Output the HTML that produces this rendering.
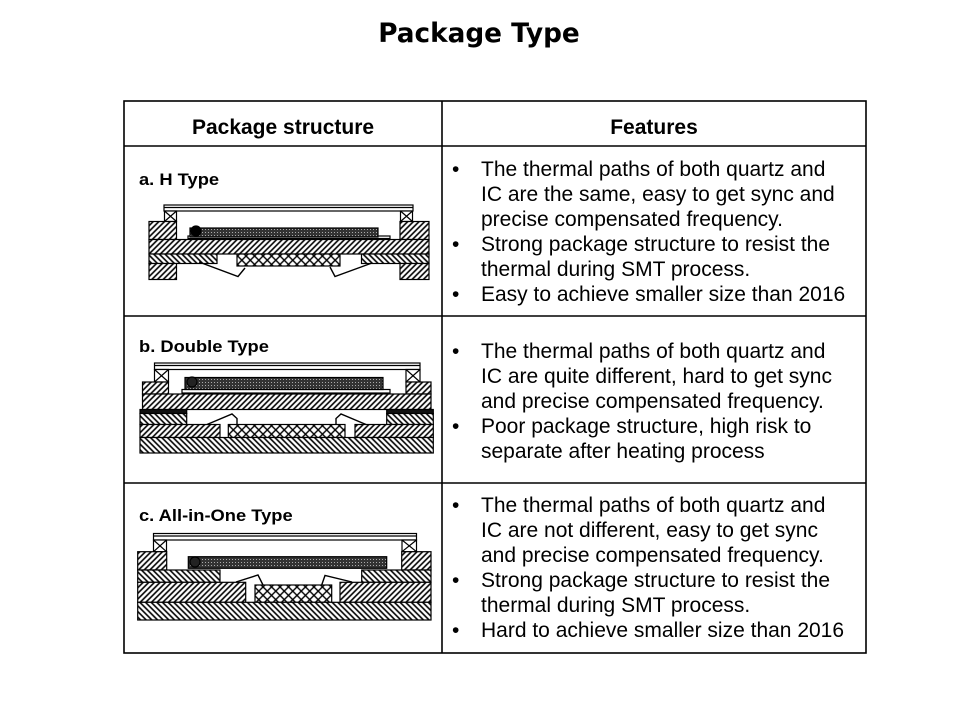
<!DOCTYPE html>
<html>
<head>
<meta charset="utf-8">
<style>
  html,body{margin:0;padding:0;background:#fff;}
  #root{position:relative;width:960px;height:720px;overflow:hidden;background:#fff;}
  svg{position:absolute;left:0;top:0;}
  .t{position:absolute;white-space:pre;line-height:1;color:#000;font-family:"Liberation Sans",Arial,sans-serif;}
  .title{font-family:"DejaVu Sans","Liberation Sans",sans-serif;font-weight:bold;font-size:26.3px;left:0;width:958px;text-align:center;top:21px;}
  .hd{font-weight:bold;font-size:21px;text-align:center;}
  .lab{font-weight:bold;font-size:16.5px;transform:scaleX(1.11);transform-origin:0 0;}
  .bl{font-size:21px;}
  .bu{font-size:21px;}
</style>
</head>
<body>
<div id="root">
<svg width="960" height="720" viewBox="0 0 960 720" xmlns="http://www.w3.org/2000/svg">
  <defs>
    <pattern id="h1" width="4" height="4" patternUnits="userSpaceOnUse" patternTransform="rotate(45)">
      <rect width="4" height="4" fill="#fff"/>
      <line x1="1" y1="0" x2="1" y2="4" stroke="#000" stroke-width="1.6"/>
    </pattern>
    <pattern id="h2" width="4" height="4" patternUnits="userSpaceOnUse" patternTransform="rotate(-45)">
      <rect width="4" height="4" fill="#fff"/>
      <line x1="1" y1="0" x2="1" y2="4" stroke="#000" stroke-width="1.6"/>
    </pattern>
    <pattern id="cx" width="6" height="6" patternUnits="userSpaceOnUse" patternTransform="rotate(45)">
      <rect width="6" height="6" fill="#fff"/>
      <line x1="1" y1="0" x2="1" y2="6" stroke="#000" stroke-width="1.4"/>
      <line x1="0" y1="1" x2="6" y2="1" stroke="#000" stroke-width="1.4"/>
    </pattern>
    <pattern id="qz" width="3" height="3" patternUnits="userSpaceOnUse">
      <rect width="3" height="3" fill="#333"/>
      <rect x="1" y="1" width="1" height="1" fill="#aaa"/>
    </pattern>
  </defs>

  <!-- table -->
  <g stroke="#000" stroke-width="1.6" fill="none">
    <rect x="124" y="101" width="742" height="552"/>
    <line x1="124" y1="146" x2="866" y2="146"/>
    <line x1="442" y1="101" x2="442" y2="653"/>
    <line x1="124" y1="316" x2="866" y2="316"/>
    <line x1="124" y1="483" x2="866" y2="483"/>
  </g>

  <!-- Diagram a: H Type -->
  <g stroke="#000" stroke-width="1.2">
    <rect x="164" y="205" width="249" height="6" fill="#fff"/>
    <line x1="164" y1="207.5" x2="413" y2="207.5"/>
    <rect x="164.5" y="211" width="12" height="10.5" fill="#fff"/>
    <path d="M164.5 211 L176.5 221.5 M176.5 211 L164.5 221.5"/>
    <rect x="400.5" y="211" width="12" height="10.5" fill="#fff"/>
    <path d="M400.5 211 L412.5 221.5 M412.5 211 L400.5 221.5"/>
    <rect x="149" y="221.5" width="27.5" height="18" fill="url(#h1)"/>
    <rect x="400" y="221.5" width="29" height="18" fill="url(#h1)"/>
    <rect x="149" y="239.5" width="280" height="14.5" fill="url(#h1)"/>
    <rect x="149" y="254" width="68" height="9.5" fill="url(#h2)"/>
    <rect x="361.5" y="254" width="67.5" height="9.5" fill="url(#h2)"/>
    <rect x="149" y="263.5" width="27.5" height="16" fill="url(#h1)"/>
    <rect x="400" y="263.5" width="29" height="16" fill="url(#h1)"/>
    <rect x="237" y="254" width="103" height="12" fill="url(#cx)"/>
    <polyline points="199,262 238,276.5 245,268" fill="none" stroke-width="1.4"/>
    <polyline points="372,263 335,276.5 330,267" fill="none" stroke-width="1.4"/>
    <rect x="188" y="236" width="202" height="2.5" fill="#fff"/>
    <rect x="190" y="228" width="188" height="9" fill="url(#qz)"/>
    <circle cx="196" cy="231" r="5" fill="#000"/>
  </g>

  <!-- Diagram b: Double Type -->
  <g stroke="#000" stroke-width="1.2">
    <rect x="154.5" y="363" width="265.5" height="6.5" fill="#fff"/>
    <line x1="154.5" y1="365.5" x2="420" y2="365.5"/>
    <rect x="154.5" y="369.5" width="14" height="12.5" fill="#fff"/>
    <path d="M154.5 369.5 L168.5 382 M168.5 369.5 L154.5 382"/>
    <rect x="406" y="369.5" width="14" height="12.5" fill="#fff"/>
    <path d="M406 369.5 L420 382 M420 369.5 L406 382"/>
    <rect x="142.5" y="382" width="26" height="12" fill="url(#h1)"/>
    <rect x="406" y="382" width="25" height="12" fill="url(#h1)"/>
    <rect x="182" y="389.5" width="208" height="3.5" fill="#fff"/>
    <rect x="185" y="377.5" width="198" height="12" fill="url(#qz)"/>
    <circle cx="192" cy="382" r="5" fill="#222"/>
    <rect x="142.5" y="394" width="288.5" height="15.5" fill="url(#h1)"/>
    <rect x="140" y="409.5" width="46.7" height="4" fill="#111"/>
    <rect x="386.7" y="409.5" width="46.6" height="4" fill="#111"/>
    <rect x="140" y="413.5" width="46.7" height="11" fill="url(#h2)"/>
    <rect x="386.7" y="413.5" width="46.6" height="11" fill="url(#h2)"/>
    <rect x="140" y="424.5" width="80" height="13" fill="url(#h1)"/>
    <rect x="355" y="424.5" width="78.3" height="13" fill="url(#h1)"/>
    <rect x="228.3" y="424.5" width="116.7" height="13" fill="url(#cx)"/>
    <rect x="140" y="437.5" width="293.3" height="15.5" fill="url(#h2)"/>
    <polyline points="207,424.5 232,414 237,418.5 237,424.5" fill="none" stroke-width="1.4"/>
    <polyline points="366,424.5 341,414 336,418.5 336,424.5" fill="none" stroke-width="1.4"/>
  </g>

  <!-- Diagram c: All-in-One Type -->
  <g stroke="#000" stroke-width="1.2">
    <rect x="153.5" y="533.5" width="263" height="6.5" fill="#fff"/>
    <line x1="153.5" y1="536" x2="416.5" y2="536"/>
    <rect x="153.5" y="540" width="13" height="11.7" fill="#fff"/>
    <path d="M153.5 540 L166.5 551.7 M166.5 540 L153.5 551.7"/>
    <rect x="402" y="540" width="14.5" height="11.7" fill="#fff"/>
    <path d="M402 540 L416.5 551.7 M416.5 540 L402 551.7"/>
    <rect x="137.7" y="551.7" width="29" height="18.3" fill="url(#h1)"/>
    <rect x="401.7" y="551.7" width="29.3" height="18.3" fill="url(#h1)"/>
    <rect x="188.3" y="556.7" width="198.4" height="11.6" fill="url(#qz)"/>
    <circle cx="195" cy="562" r="5" fill="#222"/>
    <rect x="137.7" y="570" width="82.3" height="12.3" fill="url(#h2)"/>
    <rect x="361.7" y="570" width="69.3" height="12.3" fill="url(#h2)"/>
    <rect x="137.7" y="582.3" width="108" height="20" fill="url(#h1)"/>
    <rect x="340" y="582.3" width="91" height="20" fill="url(#h1)"/>
    <rect x="255" y="585" width="76.7" height="17.3" fill="url(#cx)"/>
    <rect x="137.7" y="602.3" width="293.3" height="17.7" fill="url(#h2)"/>
    <polyline points="236,582 258,575 263,585" fill="none" stroke-width="1.4"/>
    <polyline points="352,582 325,575.5 321.7,585" fill="none" stroke-width="1.4"/>
  </g>
</svg>

<div class="t title">Package Type</div>

<div class="t hd" style="left:124px;width:318px;top:117.2px;">Package structure</div>
<div class="t hd" style="left:442px;width:424px;top:116.5px;">Features</div>

<div class="t lab" style="left:138.5px;top:172px;">a. H Type</div>
<div class="t lab" style="left:138.5px;top:339px;">b. Double Type</div>
<div class="t lab" style="left:138.5px;top:508.3px;">c. All-in-One Type</div>

<!-- Row 1 -->
<div class="t bu" style="left:452px;top:158.9px;">•</div>
<div class="t bl" style="left:481px;top:158.9px;">The thermal paths of both quartz and</div>
<div class="t bl" style="left:481px;top:183.9px;">IC are the same, easy to get sync and</div>
<div class="t bl" style="left:481px;top:208.9px;">precise compensated frequency.</div>
<div class="t bu" style="left:452px;top:233.9px;">•</div>
<div class="t bl" style="left:481px;top:233.9px;">Strong package structure to resist the</div>
<div class="t bl" style="left:481px;top:258.9px;">thermal during SMT process.</div>
<div class="t bu" style="left:452px;top:283.9px;">•</div>
<div class="t bl" style="left:481px;top:283.9px;">Easy to achieve smaller size than 2016</div>

<!-- Row 2 -->
<div class="t bu" style="left:452px;top:340.5px;">•</div>
<div class="t bl" style="left:481px;top:340.5px;">The thermal paths of both quartz and</div>
<div class="t bl" style="left:481px;top:365.5px;">IC are quite different, hard to get sync</div>
<div class="t bl" style="left:481px;top:390.5px;">and precise compensated frequency.</div>
<div class="t bu" style="left:452px;top:415.5px;">•</div>
<div class="t bl" style="left:481px;top:415.5px;">Poor package structure, high risk to</div>
<div class="t bl" style="left:481px;top:440.5px;">separate after heating process</div>

<!-- Row 3 -->
<div class="t bu" style="left:452px;top:494.5px;">•</div>
<div class="t bl" style="left:481px;top:494.5px;">The thermal paths of both quartz and</div>
<div class="t bl" style="left:481px;top:519.5px;">IC are not different, easy to get sync</div>
<div class="t bl" style="left:481px;top:544.5px;">and precise compensated frequency.</div>
<div class="t bu" style="left:452px;top:569.5px;">•</div>
<div class="t bl" style="left:481px;top:569.5px;">Strong package structure to resist the</div>
<div class="t bl" style="left:481px;top:594.5px;">thermal during SMT process.</div>
<div class="t bu" style="left:452px;top:619.5px;">•</div>
<div class="t bl" style="left:481px;top:619.5px;">Hard to achieve smaller size than 2016</div>
</div>
</body>
</html>
